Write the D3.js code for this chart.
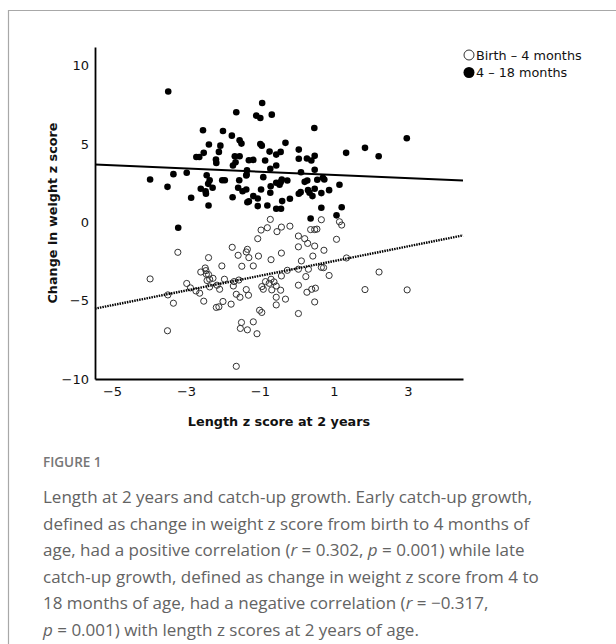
<!DOCTYPE html>
<html>
<head>
<meta charset="utf-8">
<script src="https://cdn.jsdelivr.net/npm/d3@7"></script>
<style>
  html, body { margin: 0; padding: 0; background: #fff; }
  svg { display: block; }
</style>
</head>
<body>
<svg id="chart" width="616" height="644"></svg>
<script>
// Length z score at 2 years vs. change in weight z score, two growth windows.
// Birth – 4 months (open circles): [length z, change in weight z]
const earlyPoints = [
  [-0.72,0.19],[-0.97,-0.49],[-0.80,-0.34],[-0.54,-0.59],[-0.42,-0.30],[-0.19,-0.24],[-1.06,-1.04],[0.04,-0.87],
  [-1.75,-1.59],[-1.34,-1.72],[-1.37,-1.89],[0.04,-1.56],[-3.22,-1.91],[-1.59,-2.10],[-1.04,-2.15],[-0.42,-1.96],
  [-2.39,-2.25],[-1.30,-2.25],[-0.70,-2.38],[-2.03,-2.78],[-1.49,-2.80],[-1.18,-2.78],[-2.60,-3.17],[-2.48,-2.91],
  [-2.46,-3.08],[-2.45,-3.31],[-2.39,-3.33],[-2.36,-3.63],[-2.27,-3.57],[-2.43,-3.71],[-3.97,-3.61],[-2.98,-3.90],
  [-2.88,-4.18],[-3.49,-4.63],[-2.73,-4.38],[-2.63,-4.52],[-2.36,-4.12],[-2.16,-4.01],[-2.09,-4.27],[-1.96,-3.63],
  [-1.70,-3.78],[-1.57,-3.68],[-1.72,-4.06],[-1.37,-4.29],[-1.31,-4.65],[-1.64,-4.59],[-1.54,-4.78],[-0.95,-4.10],
  [-0.91,-4.27],[-0.85,-3.78],[-0.75,-3.89],[-0.70,-3.63],[-0.62,-3.80],[-0.56,-4.06],[-0.44,-4.33],[-0.68,-4.31],
  [-0.42,-3.42],[-0.26,-3.06],[0.04,-2.99],[0.04,-4.01],[-0.56,-4.78],[-0.31,-4.90],[-0.56,-5.27],[-3.34,-5.16],
  [-2.52,-5.03],[-2.00,-5.05],[-1.78,-5.22],[-2.18,-5.43],[-2.11,-5.39],[-1.01,-5.61],[-0.95,-5.75],[0.04,-5.82],
  [-3.50,-6.92],[-1.50,-6.39],[-1.53,-6.77],[-1.34,-6.86],[-1.18,-6.35],[-1.08,-7.11],[-1.64,-9.19],[0.66,0.17],
  [0.37,-0.46],[0.48,-0.46],[0.54,-0.43],[1.15,0.04],[1.21,-0.17],[1.07,-1.08],[0.21,-1.04],[0.29,-1.34],
  [0.48,-1.51],[0.73,-1.78],[0.43,-2.15],[0.12,-2.46],[1.34,-2.27],[0.66,-2.87],[0.72,-2.89],[0.31,-2.99],
  [0.87,-3.39],[0.24,-3.46],[2.22,-3.17],[0.27,-4.46],[0.40,-4.27],[0.50,-4.20],[0.48,-5.08],[1.84,-4.29],
  [2.98,-4.31]
];

// 4 – 18 months (filled circles): [length z, change in weight z]
const latePoints = [
  [-3.48,8.36],[-0.94,7.62],[-1.64,7.03],[-1.10,6.82],[-0.99,6.67],[-0.68,6.88],[-2.54,5.88],[-2.00,5.84],
  [-1.76,5.54],[-1.55,5.24],[-1.50,5.03],[-0.99,5.01],[-0.95,4.90],[-0.31,5.08],[-2.38,4.97],[-2.07,4.90],
  [-2.11,4.50],[-2.52,4.44],[-2.72,4.18],[-2.64,4.18],[-2.19,4.01],[-2.18,3.80],[-1.68,4.22],[-1.55,4.22],
  [-1.66,3.84],[-1.73,3.63],[-1.30,3.97],[-1.18,3.99],[-0.86,3.95],[-0.74,4.52],[-0.56,4.33],[-0.44,4.50],
  [0.05,4.65],[-0.56,3.63],[-0.72,3.42],[-1.35,3.33],[-1.36,3.06],[0.05,4.06],[-3.97,2.74],[-3.34,3.08],
  [-2.98,3.17],[-3.50,2.27],[-2.44,3.01],[-2.36,2.69],[-2.40,2.46],[-2.60,2.15],[-2.47,1.99],[-2.46,1.83],
  [-2.28,2.21],[-2.02,2.69],[-1.95,2.69],[-1.56,2.69],[-1.37,2.99],[-0.91,2.89],[-1.59,2.21],[-1.47,1.99],
  [-1.37,2.10],[-2.86,1.57],[-2.39,1.08],[-1.74,1.61],[-1.18,1.68],[-1.06,1.53],[-1.34,1.29],[-1.30,1.34],
  [-1.06,1.04],[-0.97,2.10],[-0.80,1.08],[-0.71,2.31],[-0.72,1.89],[-0.56,2.53],[-0.47,2.40],[-0.44,2.57],
  [-0.41,2.74],[-0.26,2.68],[-0.40,1.36],[-0.19,1.51],[-0.56,0.87],[-0.43,0.87],[0.05,1.83],[-3.21,-0.34],
  [0.47,6.03],[2.97,5.37],[0.27,4.08],[0.39,3.95],[0.48,4.25],[1.33,4.44],[1.84,4.76],[2.21,4.22],
  [0.11,3.20],[0.48,3.36],[0.21,2.59],[0.28,2.68],[0.55,2.72],[0.70,2.85],[0.74,2.74],[1.15,2.40],
  [0.87,2.06],[0.66,1.87],[0.48,2.15],[0.10,1.93],[0.30,2.06],[0.34,1.89],[0.42,1.68],[0.66,0.94],
  [1.21,0.97],[0.37,0.25],[1.07,0.45]
];

// Linear fit lines: [intercept, slope] for each window
const earlyFit = [-2.94, 0.470];
const lateFit = [3.13, -0.1025];

// Axis extents and tick labels
const xExtent = [-5.46, 4.49];
const yExtent = [-10, 11.2];
const xTicks = [-5, -3, -1, 1, 3];
const yTicks = [-10, -5, 0, 5, 10];

const seriesNames = ["Birth \u2013 4 months", "4 \u2013 18 months"];
const xTitle = "Length z score at 2 years";
const yTitle = "Change in weight z score";

const svg = d3.select("#chart");

// Panel frame (top and left rules)
svg.append("path")
  .attr("d", "M8.5,644 V10.5 H616")
  .attr("fill", "none")
  .attr("stroke", "#a8a8a8")
  .attr("stroke-width", 1.2);

const x = d3.scaleLinear().domain(xExtent).range([95, 463]);
const y = d3.scaleLinear().domain(yExtent).range([379, 47]);

const axisFont = "'DejaVu Sans', 'Lucida Grande', sans-serif";

// Points
const g = svg.append("g");
g.selectAll("circle.early")
  .data(earlyPoints)
  .join("circle")
  .attr("class", "early")
  .attr("cx", d => x(d[0]))
  .attr("cy", d => y(d[1]))
  .attr("r", 3.1)
  .attr("fill", "none")
  .attr("stroke", "#333")
  .attr("stroke-width", 1);

g.selectAll("circle.late")
  .data(latePoints)
  .join("circle")
  .attr("class", "late")
  .attr("cx", d => x(d[0]))
  .attr("cy", d => y(d[1]))
  .attr("r", 3.3)
  .attr("fill", "#000");

// Fit lines
const fitLine = f => d3.line()
  .x(v => x(v))
  .y(v => y(f[0] + f[1] * v))(xExtent);

svg.append("path")
  .attr("d", fitLine(lateFit))
  .attr("fill", "none")
  .attr("stroke", "#000")
  .attr("stroke-width", 2);

svg.append("path")
  .attr("d", fitLine(earlyFit))
  .attr("fill", "none")
  .attr("stroke", "#000")
  .attr("stroke-width", 2.4)
  .attr("stroke-dasharray", "1.5,1");

// Axes
const xAxis = svg.append("g")
  .attr("transform", `translate(0,${y(yExtent[0])})`)
  .call(d3.axisBottom(x).tickValues(xTicks).tickSize(0).tickSizeOuter(0).tickPadding(8));
const yAxis = svg.append("g")
  .attr("transform", `translate(${x(xExtent[0])},0)`)
  .call(d3.axisLeft(y).tickValues(yTicks).tickSize(0).tickSizeOuter(0).tickPadding(6));

[xAxis, yAxis].forEach(a => {
  a.select(".domain").attr("stroke", "#000").attr("stroke-width", 1.8);
  a.selectAll("text")
    .attr("font-family", axisFont)
    .attr("font-size", 13)
    .attr("fill", "#111");
});

// Axis titles
svg.append("text")
  .attr("x", (x.range()[0] + x.range()[1]) / 2)
  .attr("y", 426)
  .attr("text-anchor", "middle")
  .attr("font-family", axisFont)
  .attr("font-weight", "bold")
  .attr("font-size", 12.8)
  .attr("fill", "#111")
  .text(xTitle);

svg.append("text")
  .attr("transform", `translate(57,${(y.range()[0] + y.range()[1]) / 2}) rotate(-90)`)
  .attr("text-anchor", "middle")
  .attr("font-family", axisFont)
  .attr("font-weight", "bold")
  .attr("font-size", 12.8)
  .attr("fill", "#111")
  .text(yTitle);

// Legend
const legend = svg.append("g").attr("transform", "translate(469,55)");
seriesNames.forEach((name, i) => {
  const row = legend.append("g").attr("transform", `translate(0,${i * 17.5})`);
  row.append("circle")
    .attr("r", i === 0 ? 5 : 5.5)
    .attr("fill", i === 0 ? "none" : "#000")
    .attr("stroke", i === 0 ? "#333" : "none")
    .attr("stroke-width", 1);
  row.append("text")
    .attr("x", 7)
    .attr("y", 4.5)
    .attr("font-family", axisFont)
    .attr("font-size", 12.8)
    .attr("fill", "#111")
    .text(name);
});

// Caption
const capFont = "'Open Sans', Lato, sans-serif";
svg.append("text")
  .attr("x", 43)
  .attr("y", 467)
  .attr("font-family", capFont)
  .attr("font-weight", 600)
  .attr("font-size", 13.5)
  .attr("fill", "#767676")
  .text("FIGURE 1");

// Each caption line is a list of [text, italic?] runs
const captionLines = [
  [["Length at 2 years and catch-up growth. Early catch-up growth,", false]],
  [["defined as change in weight z score from birth to 4 months of", false]],
  [["age, had a positive correlation (", false], ["r", true], [" = 0.302, ", false], ["p", true], [" = 0.001) while late", false]],
  [["catch-up growth, defined as change in weight z score from 4 to", false]],
  [["18 months of age, had a negative correlation (", false], ["r", true], [" = \u22120.317,", false]],
  [["p", true], [" = 0.001) with length z scores at 2 years of age.", false]]
];

const cap = svg.append("text")
  .attr("font-family", capFont)
  .attr("font-size", 17)
  .attr("fill", "#636363");
captionLines.forEach((runs, i) => {
  runs.forEach((run, j) => {
    const t = cap.append("tspan").text(run[0]);
    if (j === 0) t.attr("x", 43).attr("y", 503 + i * 26.6);
    if (run[1]) t.attr("font-style", "italic");
  });
});
</script>
</body>
</html>
